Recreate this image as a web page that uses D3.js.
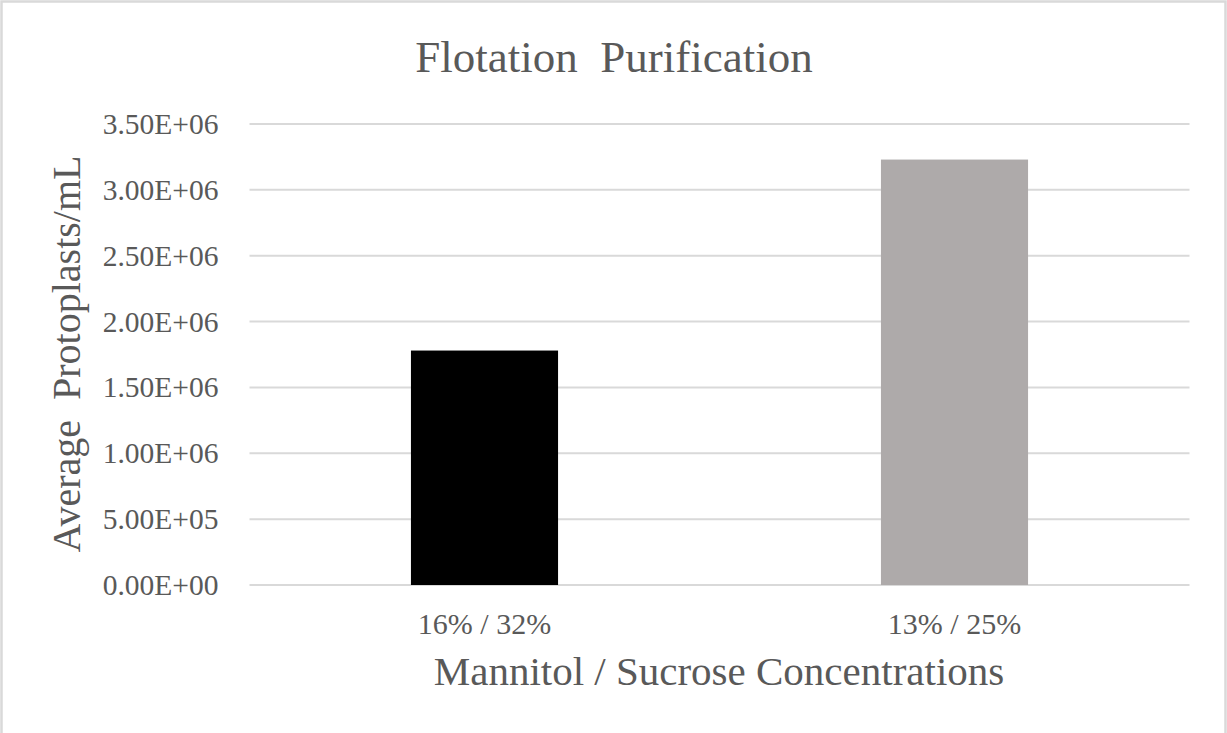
<!DOCTYPE html>
<html>
<head>
<meta charset="utf-8">
<script src="https://cdn.jsdelivr.net/npm/d3@7/dist/d3.min.js"></script>
<style>
  html, body { margin: 0; padding: 0; background: #ffffff; }
  svg { display: block; }
  text { font-family: "Liberation Serif", "Times New Roman", serif; fill: #595959; white-space: pre; }
</style>
</head>
<body>
<script>
// Flotation purification: average protoplast yield per gradient
const categories = ["16% / 32%", "13% / 25%"];
const values = [1.78e6, 3.23e6];
const barColors = ["#000000", "#AEAAAA"];
const yTicks = [0, 0.5e6, 1.0e6, 1.5e6, 2.0e6, 2.5e6, 3.0e6, 3.5e6];
const yTickLabels = ["0.00E+00", "5.00E+05", "1.00E+06", "1.50E+06", "2.00E+06", "2.50E+06", "3.00E+06", "3.50E+06"];
const chartTitle = "Flotation  Purification";
const xTitle = "Mannitol / Sucrose Concentrations";
const yTitle = "Average  Protoplasts/mL";

const W = 1227, H = 733;
const plot = { left: 249.5, right: 1189.5, top: 124, bottom: 585 };

const svg = d3.select("body").append("svg")
  .attr("width", W).attr("height", H);

// chart frame
svg.append("rect")
  .attr("x", 1.5).attr("y", 1.5)
  .attr("width", W - 3).attr("height", H + 20)
  .attr("fill", "#ffffff")
  .attr("stroke", "#d9d9d9").attr("stroke-width", 2.5);

const x = d3.scaleBand()
  .domain(categories)
  .range([plot.left, plot.right])
  .paddingInner(0.687)
  .paddingOuter(0.3435);

const y = d3.scaleLinear()
  .domain([0, 3.5e6])
  .range([plot.bottom, plot.top]);

// horizontal gridlines
svg.append("g")
  .selectAll("line")
  .data(yTicks)
  .join("line")
  .attr("x1", plot.left).attr("x2", plot.right)
  .attr("y1", d => y(d)).attr("y2", d => y(d))
  .attr("stroke", "#d9d9d9").attr("stroke-width", 2);

// y axis tick labels
const yAxis = d3.axisLeft(y)
  .tickValues(yTicks)
  .tickFormat((d, i) => yTickLabels[i])
  .tickSize(0)
  .tickPadding(31);
const gy = svg.append("g")
  .attr("transform", `translate(${plot.left},0)`)
  .call(yAxis);
gy.select(".domain").remove();
gy.selectAll("text")
  .attr("font-size", 29.5)
  .attr("font-family", "Liberation Serif, Times New Roman, serif")
  .attr("fill", "#595959");

// bars
svg.append("g")
  .selectAll("rect")
  .data(values)
  .join("rect")
  .attr("x", (d, i) => x(categories[i]))
  .attr("width", x.bandwidth())
  .attr("y", d => y(d))
  .attr("height", d => y(0) - y(d))
  .attr("fill", (d, i) => barColors[i]);

// x axis category labels
const xAxis = d3.axisBottom(x).tickSize(0).tickPadding(28);
const gx = svg.append("g")
  .attr("transform", `translate(0,${plot.bottom})`)
  .call(xAxis);
gx.select(".domain").remove();
gx.selectAll("text")
  .attr("font-size", 30)
  .attr("font-family", "Liberation Serif, Times New Roman, serif")
  .attr("fill", "#595959");

// titles
svg.append("text")
  .attr("x", 614).attr("y", 72)
  .attr("text-anchor", "middle")
  .attr("font-size", 45)
  .text(chartTitle);

svg.append("text")
  .attr("x", 719).attr("y", 685)
  .attr("text-anchor", "middle")
  .attr("font-size", 41)
  .text(xTitle);

svg.append("text")
  .attr("transform", "translate(80,354) rotate(-90)")
  .attr("text-anchor", "middle")
  .attr("font-size", 40)
  .text(yTitle);
</script>
</body>
</html>
